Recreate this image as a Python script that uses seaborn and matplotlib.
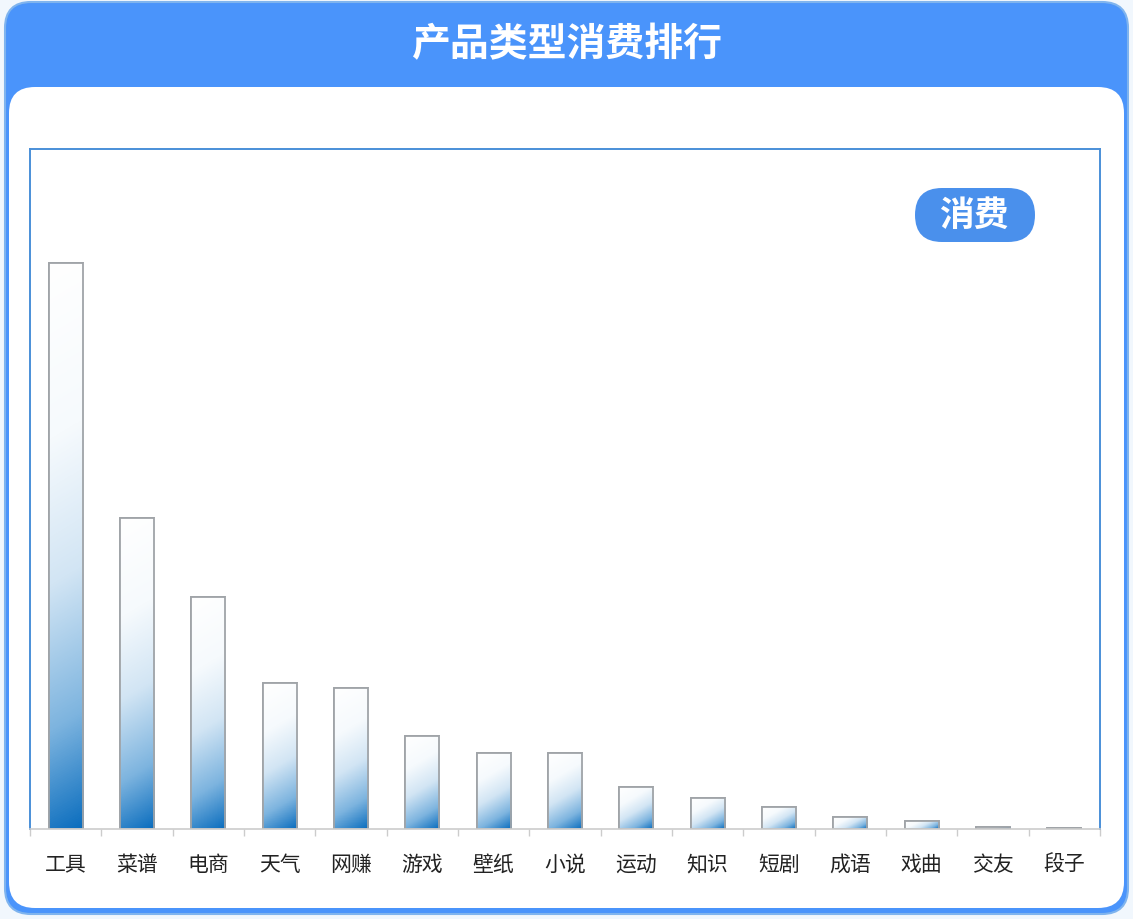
import numpy as np
import matplotlib
matplotlib.use("Agg")
import matplotlib.pyplot as plt
from matplotlib.patches import FancyBboxPatch
import pandas as pd
import seaborn as sns

# Data
categories = ["工具", "菜谱", "电商", "天气", "网赚", "游戏", "壁纸", "小说",
              "运动", "知识", "短剧", "成语", "戏曲", "交友", "段子"]
spend = [566, 311, 232, 146, 141, 93, 76, 76, 42, 31, 22, 12, 8, 2, 1]
series_name = "消费"
title = "产品类型消费排行"

df = pd.DataFrame({"类型": categories, series_name: spend})

sns.set_theme(style="white")
plt.rcParams["font.family"] = ["Noto Sans CJK SC", "DejaVu Sans"]

W, H = 1133, 920
fig = plt.figure(figsize=(W / 100, H / 100), dpi=100)
fig.patch.set_facecolor("#F1F7FD")

# card background: blue header + white panel
bg = fig.add_axes([0, 0, 1, 1], zorder=0)
bg.set_xlim(0, W)
bg.set_ylim(H, 0)
bg.axis("off")
bg.add_patch(FancyBboxPatch((5, 3), W - 10, H - 8,
                            boxstyle="round,pad=0,rounding_size=26",
                            fc="#4A94FB", ec="#7FB4EE", lw=1.5))
bg.add_patch(FancyBboxPatch((9, 88), W - 18, H - 99,
                            boxstyle="round,pad=0,rounding_size=26",
                            fc="white", ec="none"))
bg.text(W / 2, 45, title, color="white", fontsize=28, fontweight="bold",
        ha="center", va="center")

# legend pill
bg.add_patch(FancyBboxPatch((915, 189), 120, 54,
                            boxstyle="round,pad=0,rounding_size=27",
                            fc="#4A90EC", ec="none"))
bg.text(974, 215, series_name, color="white", fontsize=25, fontweight="bold",
        ha="center", va="center")

# plot area
ax = fig.add_axes([30 / W, 1 - 830 / H, 1070 / W, 680 / H], zorder=1)
ax.patch.set_alpha(0)
sns.barplot(data=df, x="类型", y=series_name, ax=ax, width=0.48,
            color="white", edgecolor="#A0A4A8", linewidth=1.3)
ax.set_xlim(-0.5, len(categories) - 0.5)
ax.set_ylim(0, 680)

# white-to-blue gradient inside each bar (diagonal in pixel space)
cmap = matplotlib.colors.LinearSegmentedColormap.from_list(
    "bar", [(0.0, "#FFFFFF"), (0.3, "#F6FAFD"), (0.55, "#D2E5F4"),
            (0.8, "#7DB4DF"), (1.0, "#0A6DBE")])
for p in list(ax.patches):
    x0, y0 = p.get_x(), p.get_y()
    w, h = p.get_width(), p.get_height()
    if h <= 0:
        continue
    (px0, py0), (px1, py1) = ax.transData.transform([(x0, y0), (x0 + w, y0 + h)])
    wpx, hpx = abs(px1 - px0), abs(py1 - py0)
    nx = max(int(wpx), 2)
    ny = max(int(hpx), 2)
    u = np.linspace(0, 1, nx)[None, :]
    vdown = np.linspace(1, 0, ny)[:, None]  # row 0 = bottom (origin lower)
    t = (u * wpx * 0.6 + vdown * hpx) / (wpx * 0.6 + hpx)
    im = ax.imshow(t, cmap=cmap, vmin=0, vmax=1, aspect="auto", origin="lower",
                   extent=[x0, x0 + w, y0, y0 + h], zorder=p.get_zorder() + 0.1,
                   interpolation="bilinear")
    im.set_clip_path(p)
    ax.add_patch(FancyBboxPatch((x0, y0), w, h, boxstyle="square,pad=0",
                                fc="none", ec="#A0A4A8", lw=1.3,
                                zorder=p.get_zorder() + 0.2))
ax.set_xlim(-0.5, len(categories) - 0.5)
ax.set_ylim(0, 680)

ax.set_xlabel("")
ax.set_ylabel("")
ax.set_yticks([])
ax.set_xticks(range(len(categories)))
ax.set_xticklabels(categories, fontsize=15, color="#222222")
ax.tick_params(axis="x", which="major", length=0, pad=17)
ax.set_xticks(np.arange(-0.5, len(categories), 1), minor=True)
ax.tick_params(axis="x", which="minor", length=5, color="#CCCCCC", width=1,
               bottom=True)

for side in ["left", "top", "right"]:
    ax.spines[side].set_visible(True)
    ax.spines[side].set_color("#4A8FD8")
    ax.spines[side].set_linewidth(1.4)
ax.spines["bottom"].set_color("#CCCCCC")
ax.spines["bottom"].set_linewidth(1.2)

fig.savefig("out.png", dpi=100, facecolor=fig.get_facecolor())
